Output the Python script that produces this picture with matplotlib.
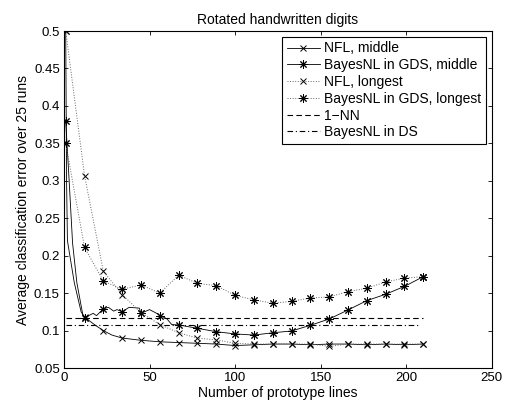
import matplotlib
matplotlib.use("Agg")
import matplotlib.pyplot as plt
import numpy as np

plt.rcParams['font.family'] = ['Liberation Sans', 'DejaVu Sans']
plt.rcParams['font.size'] = 10

# marker positions (number of prototype lines)
x_marks = [1, 12, 23, 34, 45, 56, 67, 78, 89, 100, 111, 122, 133, 144, 155, 166, 177, 188, 199, 210]

# NFL, middle (solid, x)
nfl_mid_x = [1, 1.5, 2, 6, 10, 12, 16, 19, 23, 28, 34, 45, 56, 67, 78, 89, 100, 111, 122, 133, 144,
             155, 166, 177, 188, 199, 210]
nfl_mid_y = [0.5, 0.30, 0.22, 0.164, 0.125, 0.118, 0.111, 0.106, 0.100, 0.094, 0.090, 0.087, 0.085,
             0.084, 0.083, 0.082, 0.080, 0.081, 0.082, 0.082, 0.081, 0.082, 0.082, 0.081, 0.082,
             0.081, 0.082]

# BayesNL in GDS, middle (solid, asterisk)
bnl_mid_x = [1, 3, 5, 7.5, 11, 12, 17, 19, 23, 26, 29, 31, 34, 38, 44, 45, 50, 55, 56, 60, 63, 67,
             78, 89, 100, 111, 122, 133, 144, 155, 166, 177, 188, 199, 210]
bnl_mid_y = [0.38, 0.30, 0.217, 0.164, 0.121, 0.117, 0.123, 0.120, 0.129, 0.131, 0.126, 0.128, 0.125,
             0.131, 0.130, 0.123, 0.128, 0.122, 0.120, 0.116, 0.108, 0.1075, 0.103, 0.0985, 0.0955,
             0.094, 0.097, 0.0995, 0.107, 0.1155, 0.1275, 0.140, 0.1485, 0.159, 0.172]

# NFL, longest (dotted, x)
nfl_long_y = [0.5, 0.307, 0.179, 0.148, 0.124, 0.108, 0.097, 0.090, 0.0875, 0.083, 0.082, 0.082,
              0.082, 0.082, 0.079, 0.082, 0.082, 0.082, 0.082, 0.082]

# BayesNL in GDS, longest (dotted, asterisk)
bnl_long_y = [0.35, 0.211, 0.166, 0.155, 0.161, 0.150, 0.174, 0.163, 0.160, 0.147, 0.141, 0.1365,
              0.139, 0.1435, 0.145, 0.152, 0.1565, 0.165, 0.170, 0.172]

# constant baselines
nn1_x = [1, 210]
nn1_y = [0.117, 0.117]
bnl_ds_x = [1, 207]
bnl_ds_y = [0.107, 0.107]

ast = (8, 2, 0)


def mark_idx(xs):
    return [i for i, v in enumerate(xs) if v in x_marks]


fig = plt.figure(figsize=(5.08, 4.08), dpi=100)
ax = fig.add_axes([0.126, 0.098, 0.842, 0.826])

ax.plot(nfl_mid_x, nfl_mid_y, '-', color='k', lw=0.6, marker='x', ms=4, mew=0.7,
        markevery=mark_idx(nfl_mid_x), label='NFL, middle')
ax.plot(bnl_mid_x, bnl_mid_y, '-', color='k', lw=0.6, marker=ast, ms=6, mew=0.7,
        markevery=mark_idx(bnl_mid_x), label='BayesNL in GDS, middle')
ax.plot(x_marks, nfl_long_y, ':', color='0.4', lw=0.7, marker='x', ms=4, mew=0.7, mec='k',
        label='NFL, longest')
ax.plot(x_marks, bnl_long_y, ':', color='0.4', lw=0.7, marker=ast, ms=6, mew=0.7, mec='k',
        label='BayesNL in GDS, longest')
ax.plot(nn1_x, nn1_y, '--', color='k', lw=0.8, dashes=(5, 3), label='1\u2212NN')
ax.plot(bnl_ds_x, bnl_ds_y, '-.', color='k', lw=0.8, dashes=(5, 2.5, 1, 2.5), label='BayesNL in DS')

ax.set_xlim(0, 250)
ax.set_ylim(0.05, 0.5)
ax.set_xticks([0, 50, 100, 150, 200, 250])
ax.set_yticks([0.05, 0.1, 0.15, 0.2, 0.25, 0.3, 0.35, 0.4, 0.45, 0.5])
ax.set_yticklabels(['0.05', '0.1', '0.15', '0.2', '0.25', '0.3', '0.35', '0.4', '0.45', '0.5'])
ax.tick_params(direction='in', top=True, right=True, length=3, width=0.6, labelsize=9.5, pad=3)
for s in ax.spines.values():
    s.set_linewidth(0.8)

ax.set_title('Rotated handwritten digits', fontsize=10, pad=5)
ax.set_xlabel('Number of prototype lines', fontsize=10, labelpad=1)
ax.set_ylabel('Average classification error over 25 runs', fontsize=10, labelpad=3)

leg = ax.legend(loc='upper right', fontsize=10, numpoints=1, handlelength=2.4, handletextpad=0.3,
                borderpad=0.35, labelspacing=0.2, borderaxespad=0.4, fancybox=False)
leg.get_frame().set_edgecolor('k')
leg.get_frame().set_linewidth(0.8)
leg.get_frame().set_alpha(1)

fig.savefig('out.png', dpi=100)
